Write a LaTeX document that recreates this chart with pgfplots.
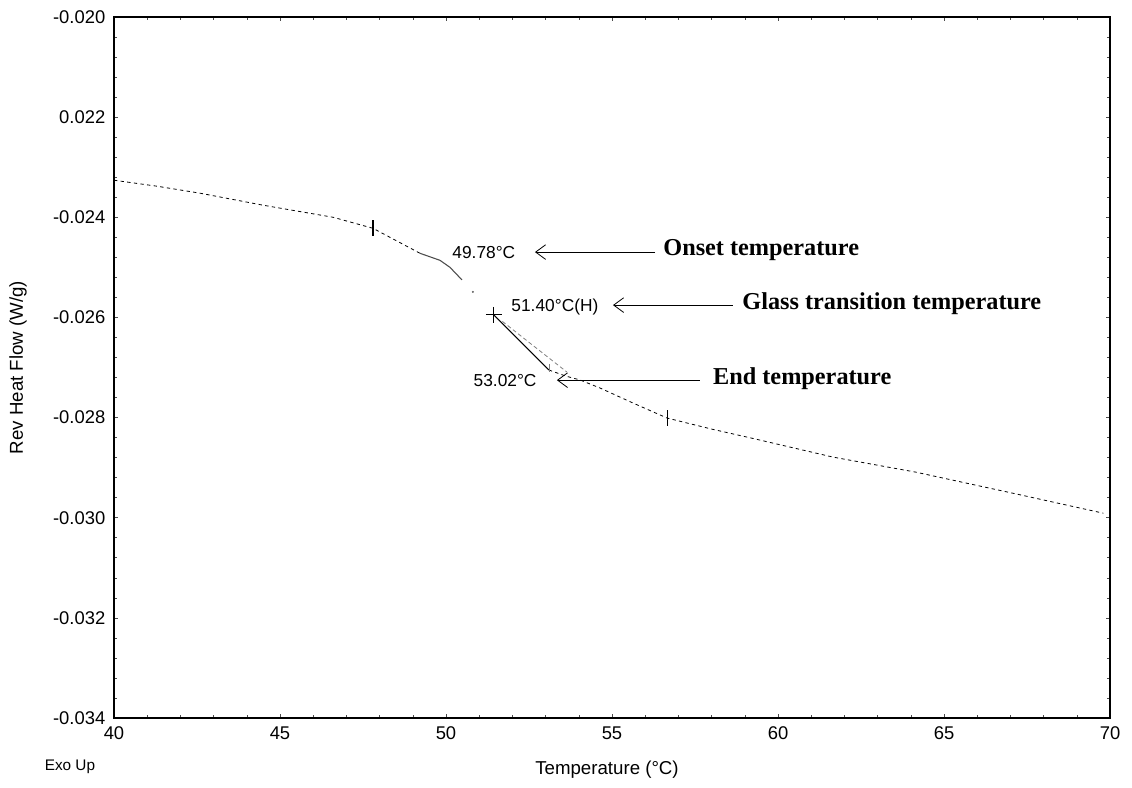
\documentclass[border=0pt]{standalone}
\usepackage{fontspec}
\setmainfont{Liberation Sans}
\newfontfamily\serifbf{Liberation Serif}
\usepackage{pgfplots}
\pgfplotsset{compat=1.18}
\usetikzlibrary{arrows.meta}

\begin{document}
\begin{tikzpicture}
\useasboundingbox (-85.5pt,-52.5pt) rectangle (763.5pt,538.5pt);
\begin{axis}[
    scale only axis,
    width=747pt, height=525.75pt,
    xmin=40, xmax=70,
    ymin=-0.034, ymax=-0.020,
    xtick={40,45,50,55,60,65,70},
    ytick={-0.034,-0.032,-0.030,-0.028,-0.026,-0.024,-0.022,-0.020},
    yticklabels={-0.034,-0.032,-0.030,-0.028,-0.026,-0.024,0.022,-0.020},
    scaled y ticks=false,
    /pgf/number format/assume math mode=true,
    tick label style={font=\fontsize{13.8}{16}\selectfont},
    yticklabel style={xshift=-3pt},
    xticklabel style={yshift=-3pt},
    minor x tick num=4, minor y tick num=4,
    tick align=inside,
    major tick length=3pt, minor tick length=2pt,
    tick style={black!70, line width=0.4pt},
    axis line style={line width=1.3pt},
    xlabel={Temperature (°C)},
    ylabel={Rev Heat Flow (W/g)},
    label style={font=\fontsize{14}{16}\selectfont},
    xlabel style={at={(axis description cs:0.495,-0.0742)}, anchor=center},
    ylabel style={at={(axis description cs:-0.0964,0.5)}, anchor=center},
    clip=false,
]
% baseline before onset
\addplot[black, line width=0.6pt, dash pattern=on 2.5pt off 2.5pt] coordinates {
    (40,-0.02326) (41.3,-0.02338) (42.6,-0.02352) (44.5,-0.02376)
    (46.6,-0.02400) (47.8,-0.02422) (49.22,-0.02472)
};
% onset segment
\addplot[black!70, line width=0.8pt] coordinates {
    (49.22,-0.02472) (49.82,-0.02486) (50.12,-0.02500) (50.48,-0.02525)
};
\addplot[only marks, mark=*, mark size=0.5pt, black!60] coordinates {(50.81,-0.02549)};
% transition segment
\addplot[black, line width=0.8pt] coordinates {
    (51.44,-0.02595) (52.3,-0.02652) (53.1,-0.02705)
};
\addplot[black!50, line width=0.6pt, dash pattern=on 3pt off 2pt] coordinates {
    (51.7,-0.02608) (52.6,-0.02655) (53.64,-0.02709)
};
% baseline after end
\addplot[black, line width=0.6pt, dash pattern=on 2.5pt off 2.5pt] coordinates {
    (53.1,-0.02705) (53.6,-0.02717) (54.04,-0.02725) (54.64,-0.02741)
    (55.6,-0.02770) (56.66,-0.02801) (58.0,-0.02823) (59.2,-0.02841)
    (61.66,-0.02879) (64.15,-0.02909) (67.0,-0.02950) (69.8,-0.02991)
};
% analysis markers
\addplot[only marks, mark=|, mark size=6pt, black, mark options={line width=0.9pt}] coordinates {
    (47.8,-0.02422) (56.66,-0.02801)
};
\addplot[only marks, mark=+, mark size=6pt, black, mark options={line width=0.7pt}] coordinates {
    (51.44,-0.02595)
};
\addplot[only marks, mark=|, mark size=3pt, black!50, mark options={line width=0.6pt}] coordinates {
    (53.10,-0.02701)
};

% annotations
\node[font=\fontsize{13}{15}\selectfont] at (axis cs:51.14,-0.024695) {49.78°C};
\node[font=\fontsize{13}{15}\selectfont] at (axis cs:53.28,-0.025794) {51.40°C(H)};
\node[font=\fontsize{13}{15}\selectfont] at (axis cs:51.78,-0.027253) {53.02°C};

\draw[line width=0.6pt, -{Straight Barb[length=7.5pt,width=11pt]}] (axis cs:56.30,-0.024695) -- (axis cs:52.68,-0.024695);
\draw[line width=0.6pt, -{Straight Barb[length=7.5pt,width=11pt]}] (axis cs:58.64,-0.025754) -- (axis cs:55.03,-0.025754);
\draw[line width=0.6pt, -{Straight Barb[length=7.5pt,width=11pt]}] (axis cs:57.65,-0.027253) -- (axis cs:53.34,-0.027253);

\node[anchor=west, inner sep=0pt, font=\serifbf\bfseries\fontsize{18.2}{20}\selectfont] at (axis cs:56.54,-0.02465) {Onset temperature};
\node[anchor=west, inner sep=0pt, font=\serifbf\bfseries\fontsize{18.2}{20}\selectfont] at (axis cs:58.92,-0.02572) {Glass transition temperature};
\node[anchor=west, inner sep=0pt, font=\serifbf\bfseries\fontsize{18.2}{20}\selectfont] at (axis cs:58.04,-0.02722) {End temperature};

\node[font=\fontsize{11.5}{13}\selectfont] at (axis description cs:-0.0442,-0.0699) {Exo Up};
\end{axis}
\end{tikzpicture}
\end{document}
